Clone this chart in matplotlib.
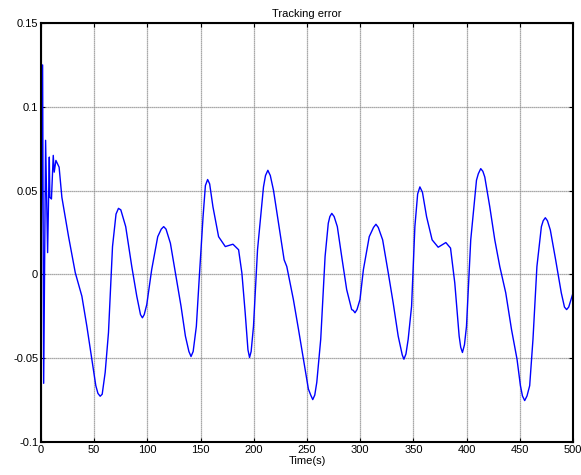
import matplotlib
matplotlib.use('Agg')
import matplotlib.pyplot as plt

# puntos (tiempo en s, error)
t = [0, 1.5, 2.5, 4.3, 6.2, 7.8, 8.3, 9.8, 11.5, 12.4, 14, 17, 19.6, 25.9, 32.2,
     38.4, 43.1, 47.8, 51.5, 53.5, 55.6, 57.5, 60.3, 63.4, 67.2, 70.5, 72.8, 75,
     79.6, 85.3, 90, 93.5, 95.3, 97, 99.4, 104, 109.7, 113, 115.3, 117.5, 121.6,
     126.3, 131.6, 135.7, 139, 141, 143, 146, 149, 152.3, 154.5, 156.6, 158.5,
     161.6, 166.9, 173.2, 180.4, 185.7, 188.8, 191.9, 194.5, 196, 197.5, 199.7,
     203.5, 209.1, 211, 213.2, 215.5, 218.5, 223.2, 228.5, 231, 237.2, 242,
     246.6, 251.3, 253.5, 255.4, 257.3, 259.2, 262.9, 267, 270, 271.5, 273.3,
     275.5, 278.5, 282.6, 287.3, 292, 293.5, 295.1, 297, 299.8, 303, 308.5,
     312.5, 314.8, 317, 321.1, 326.4, 331, 335.7, 339.5, 341.1, 343, 345.1,
     348.3, 351.4, 354, 356.1, 358.5, 362.4, 367.6, 373.3, 380.5, 384.9, 388.9,
     393, 394.5, 396.1, 398, 399.9, 403.9, 409.3, 411, 413.3, 415.3, 417.1,
     421.8, 426.5, 431.2, 436.8, 442.2, 447.4, 450.6, 452.5, 454.6, 456.8, 459.3,
     462.4, 466.1, 470.3, 472, 474, 476, 478.7, 483.7, 489, 492, 494, 496, 499.6]
err = [0.0, 0.125, -0.065, 0.08, 0.013, 0.07, 0.046, 0.045, 0.071, 0.061, 0.068,
       0.064, 0.046, 0.0225, 0.001, -0.013, -0.031, -0.0506, -0.0664, -0.071,
       -0.0727, -0.0715, -0.0585, -0.0348, 0.0166, 0.036, 0.0394, 0.0385, 0.0285,
       0.0047, -0.013, -0.024, -0.0259, -0.024, -0.018, 0.0028, 0.0225, 0.027,
       0.0285, 0.027, 0.0186, 0.0008, -0.019, -0.0368, -0.046, -0.049, -0.046,
       -0.031, 0.0008, 0.0344, 0.053, 0.0566, 0.054, 0.0403, 0.0225, 0.0166,
       0.018, 0.0147, 0.0008, -0.0229, -0.045, -0.0496, -0.046, -0.031, 0.0147,
       0.0522, 0.059, 0.0621, 0.059, 0.0502, 0.0305, 0.0087, 0.0047, -0.015,
       -0.0328, -0.0506, -0.0684, -0.072, -0.0747, -0.072, -0.0644, -0.0387,
       0.0107, 0.0305, 0.0345, 0.0364, 0.0345, 0.0285, 0.0107, -0.0091, -0.021,
       -0.0215, -0.0229, -0.021, -0.015, 0.0028, 0.0225, 0.028, 0.0299, 0.028,
       0.0206, 0.0008, -0.017, -0.0368, -0.048, -0.0506, -0.0475, -0.0387,
       -0.019, 0.0285, 0.048, 0.0522, 0.049, 0.0344, 0.0206, 0.0162, 0.019,
       0.0157, -0.0051, -0.0368, -0.0435, -0.0466, -0.042, -0.031, 0.0206,
       0.0562, 0.060, 0.0631, 0.0615, 0.0581, 0.0403, 0.0206, 0.0047, -0.011,
       -0.0328, -0.0506, -0.0664, -0.0725, -0.0753, -0.0725, -0.0664, -0.0387,
       0.0047, 0.0285, 0.032, 0.0338, 0.032, 0.0265, 0.0087, -0.011, -0.0195,
       -0.021, -0.0195, -0.012]

xticks = [0, 50, 100, 150, 200, 250, 300, 350, 400, 450, 500]
yticks = [-0.1, -0.05, 0, 0.05, 0.1, 0.15]
ytick_labels = ['-0.1', '-0.05', '0', '0.05', '0.1', '0.15']

plt.rcParams['font.family'] = ['Liberation Sans', 'DejaVu Sans']
plt.rcParams['font.size'] = 8

fig = plt.figure(figsize=(5.81, 4.75), dpi=100)
ax = fig.add_axes([0.0706, 0.0695, 0.9156, 0.8821])
ax.plot(t, err, color='#0000ff', linewidth=1)

ax.set_xlim(0, 500)
ax.set_ylim(-0.1, 0.15)
ax.set_xticks(xticks)
ax.set_yticks(yticks)
ax.set_yticklabels(ytick_labels)
ax.tick_params(direction='in', top=True, right=True, length=3, pad=2)
# rejilla estilo matlab
ax.grid(True, color='#8c8c8c', linestyle=(0, (1, 0.6)), linewidth=0.9)
for s in ax.spines.values():
    s.set_linewidth(1.5)

ax.set_title('Tracking error', fontsize=8, pad=4)
ax.set_xlabel('Time(s)', labelpad=1)

plt.savefig('out.png', dpi=100)
